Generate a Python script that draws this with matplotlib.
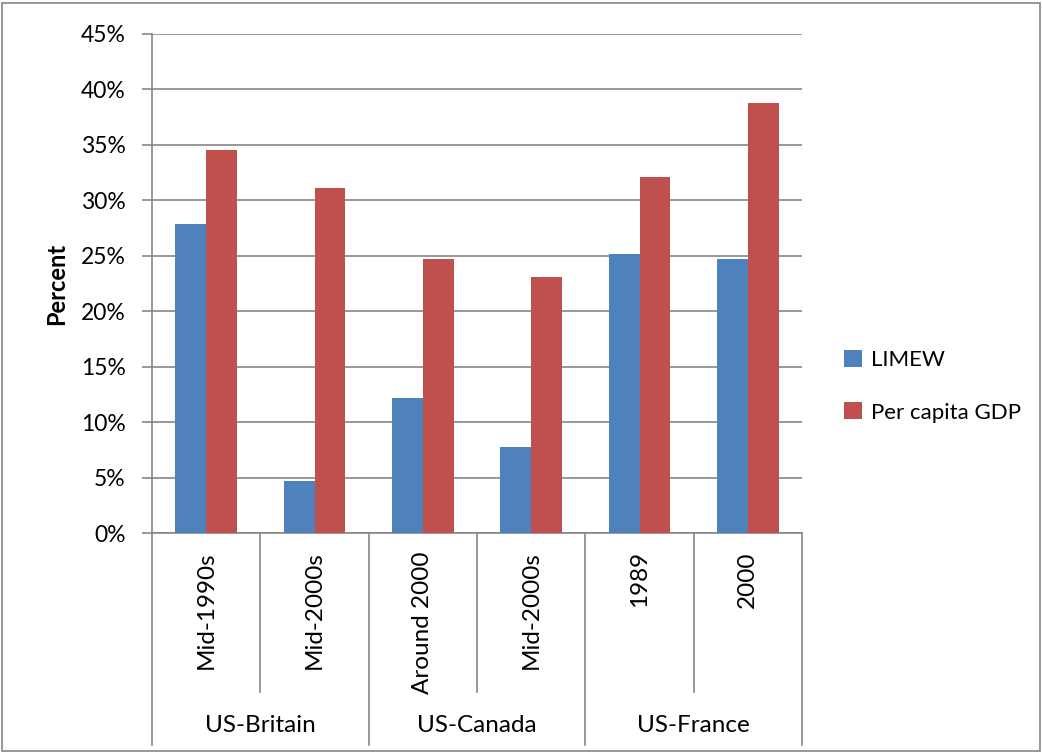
import matplotlib
matplotlib.use("Agg")
import matplotlib.pyplot as plt
from matplotlib.patches import Rectangle
from matplotlib.lines import Line2D
import numpy as np

categories = ["Mid-1990s", "Mid-2000s", "Around 2000", "Mid-2000s", "1989", "2000"]
groups = ["US-Britain", "US-Canada", "US-France"]
group_sizes = [2, 2, 2]
limew = [27.9, 4.7, 12.2, 7.8, 25.2, 24.7]
gdp = [34.5, 31.1, 24.7, 23.1, 32.1, 38.8]
series_names = ["LIMEW", "Per capita GDP"]
colors = ["#4F81BD", "#C0504D"]
yticks = [0, 5, 10, 15, 20, 25, 30, 35, 40, 45]

plt.rcParams['font.family'] = ['Lato', 'DejaVu Sans']
FS_TICK = 16.5
FS_CAT = 17.5
FS_LEG = 16

fig = plt.figure(figsize=(10.42, 7.53), dpi=100)
ax = fig.add_axes([152/1042, (753-533)/753, 650/1042, 499/753])

x = np.arange(len(categories))
w = 0.285
ax.bar(x - w/2, limew, w, color=colors[0], label=series_names[0], zorder=3)
ax.bar(x + w/2, gdp, w, color=colors[1], label=series_names[1], zorder=3)

ax.set_xlim(-0.5, len(categories) - 0.5)
ax.set_ylim(0, 45)
ax.set_yticks(yticks)
ax.set_yticklabels([f"{v}%" for v in yticks], fontsize=FS_TICK)
ax.yaxis.grid(True, color="#868686", linewidth=1.2, zorder=0)
ax.tick_params(axis='y', length=7, color="#868686", width=1.2, pad=12)
ax.set_xticks([])
for s in ["top", "right"]:
    ax.spines[s].set_visible(False)
for s in ["left", "bottom"]:
    ax.spines[s].set_color("#868686")
    ax.spines[s].set_linewidth(1.2)
ax.set_ylabel("Percent", fontsize=17, fontweight="bold", labelpad=9)

trans = ax.get_xaxis_transform()
ah = 499.0
inner_end = -(692 - 533) / ah
outer_end = -(745 - 533) / ah
bounds = np.arange(len(categories) + 1) - 0.5
group_edges = set(np.concatenate([[0], np.cumsum(group_sizes)]) - 0.5)
for b in bounds:
    end = outer_end if b in group_edges else inner_end
    ax.add_line(Line2D([b, b], [0, end], transform=trans, color="#868686",
                       linewidth=1.2, clip_on=False))
for i, c in enumerate(categories):
    ax.text(i, -(551 - 533) / ah, c, transform=trans, rotation=90,
            ha="center", va="top", fontsize=FS_CAT)
start = 0
for g, n in zip(groups, group_sizes):
    ax.text(start + (n - 1) / 2, -(726 - 533) / ah, g, transform=trans,
            ha="center", va="center", fontsize=FS_CAT)
    start += n

leg = fig.legend(loc="upper left", bbox_to_anchor=(824/1042, 1 - 330/753),
                 frameon=False, fontsize=FS_LEG, handlelength=0.8, handleheight=0.8,
                 handletextpad=0.4, labelspacing=1.45)

fig.patches.append(Rectangle((0.002, 0.002), 0.996, 0.994, transform=fig.transFigure,
                             fill=False, edgecolor="#868686", linewidth=1.2))

fig.savefig("out.png", dpi=100)
